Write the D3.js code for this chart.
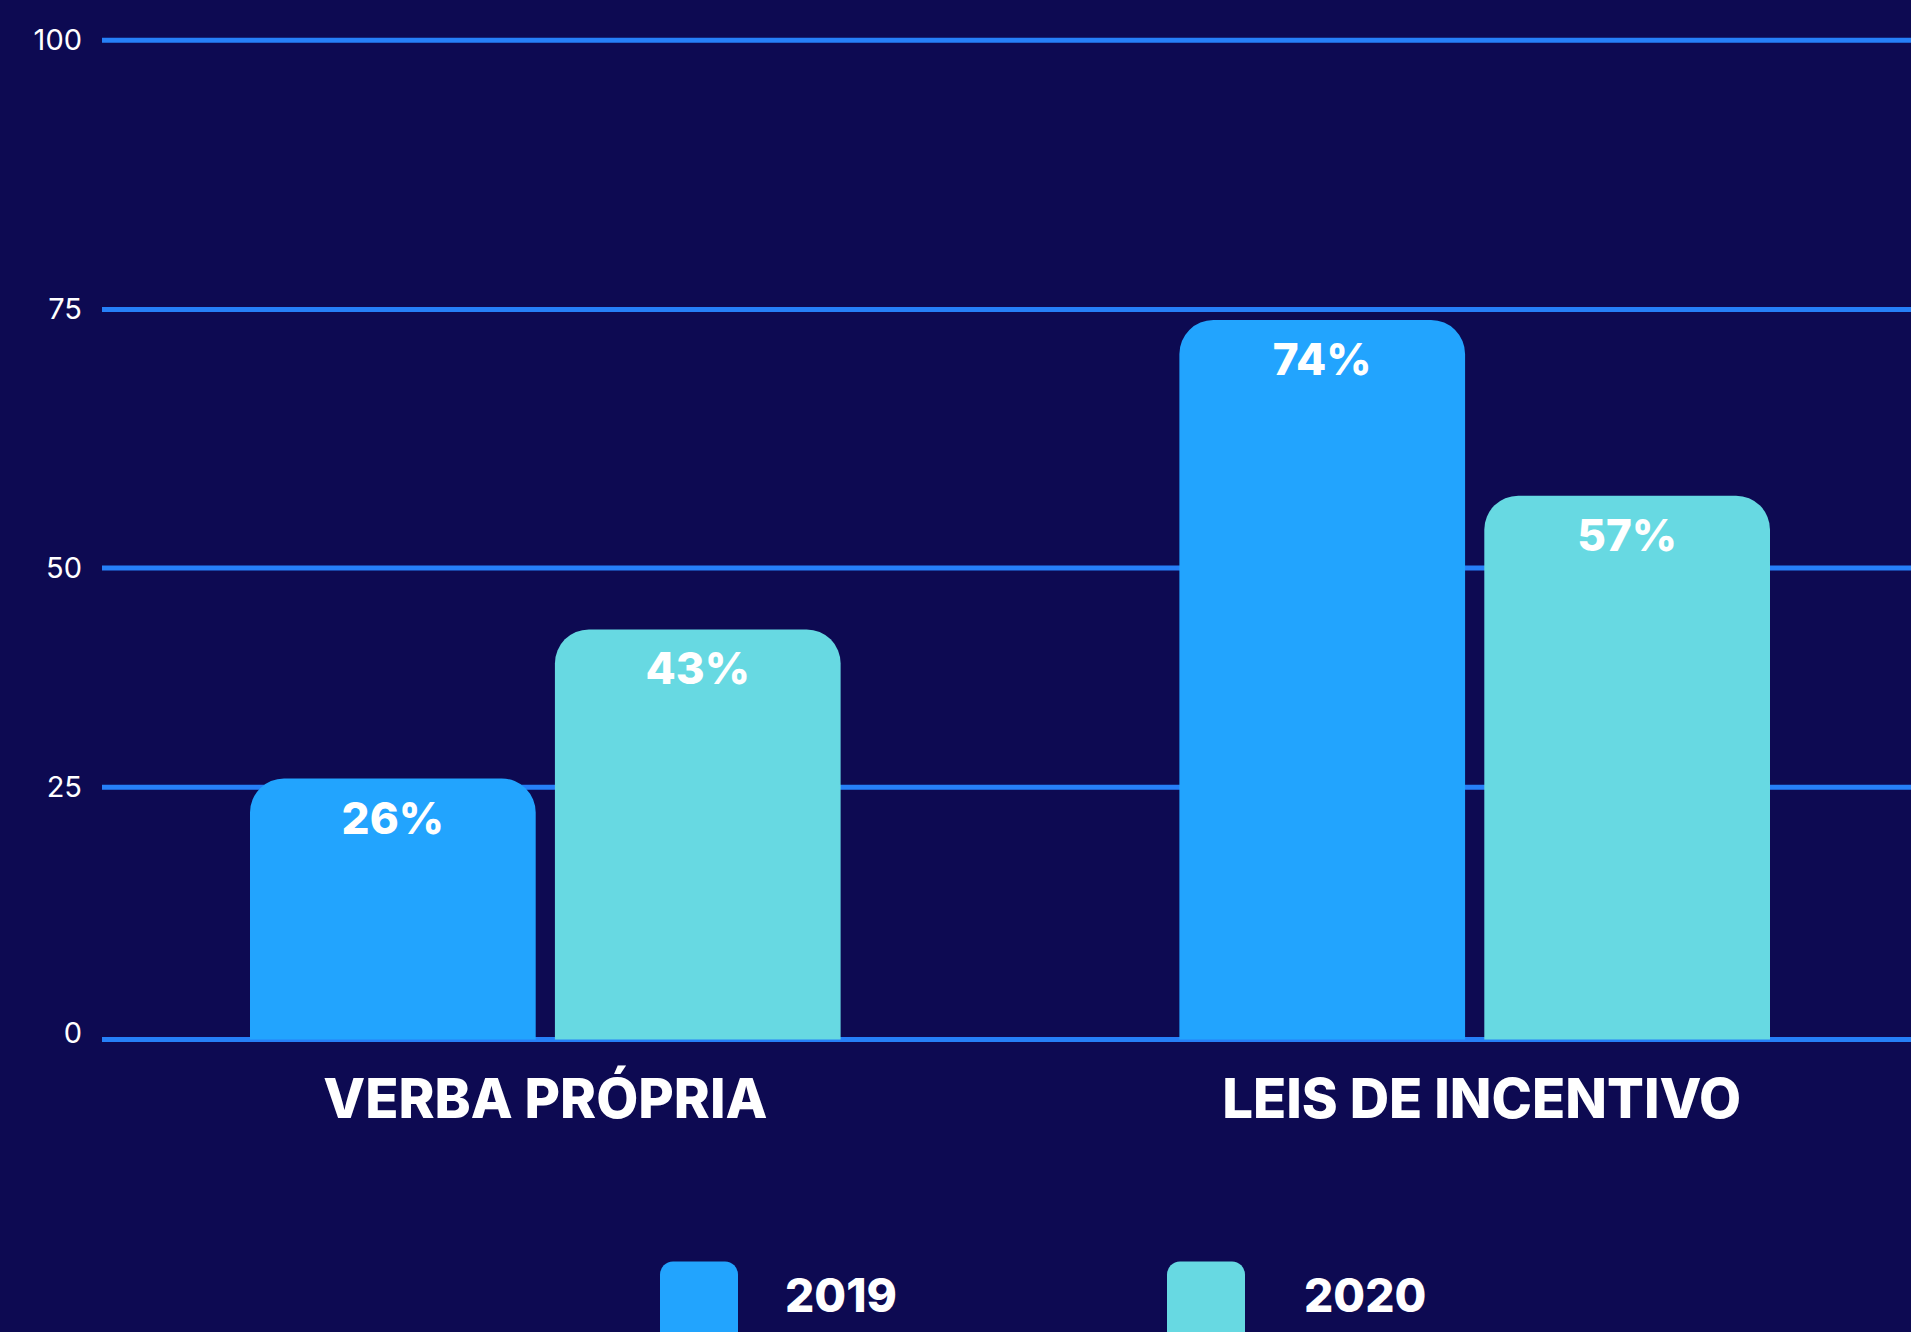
<!DOCTYPE html>
<html>
<head>
<meta charset="utf-8">
<script src="https://cdn.jsdelivr.net/npm/d3@7"></script>
<style>
  body { margin: 0; background: #0d0a52; }
  svg { display: block; }
</style>
</head>
<body>
<div id="viz"></div>
<script>
const width = 1911, height = 1332;

// data
const categories = ["VERBA PRÓPRIA", "LEIS DE INCENTIVO"];
const series = ["2019", "2020"];
const values2019 = [26, 74];
const values2020 = [43, 57];
const yTicks = [0, 25, 50, 75, 100];
const seriesColors = ["#22a4fe", "#67d9e2"];

const bg = "#0d0a52", gridColor = "#2680f8";
const font = "Inter, 'Noto Sans', sans-serif";

const svg = d3.select("#viz").append("svg")
  .attr("width", width)
  .attr("height", height)
  .style("background", bg);

const rows = categories.map((c, i) => ({
  category: c,
  values: [values2019[i], values2020[i]]
}));

// the original grid is not evenly spaced, so the scale follows its gridlines
const y = d3.scaleLinear()
  .domain(yTicks)
  .range([1039.6, 787.3, 568, 309.6, 40.2]);

const x0 = d3.scaleBand()
  .domain(categories)
  .range([250, 1770])
  .paddingInner(0.3645);

const x1 = d3.scaleBand()
  .domain(series)
  .range([0, x0.bandwidth()])
  .paddingInner(0.063);

const color = d3.scaleOrdinal().domain(series).range(seriesColors);

// gridlines + tick labels
const grid = svg.append("g");
grid.selectAll("line")
  .data(yTicks)
  .enter()
  .append("line")
  .attr("x1", 102)
  .attr("x2", width)
  .attr("y1", d => y(d))
  .attr("y2", d => y(d))
  .attr("stroke", gridColor)
  .attr("stroke-width", 5);

grid.selectAll("text")
  .data(yTicks)
  .enter()
  .append("text")
  .attr("x", 82)
  .attr("y", d => y(d))
  .attr("dy", d => d === 0 ? "0.1em" : "0.33em")
  .attr("text-anchor", "end")
  .attr("fill", "#ffffff")
  .attr("font-family", font)
  .attr("font-weight", 400)
  .attr("font-size", "29px")
  .text(d => d);

// bars with rounded tops
function topRounded(x, yTop, w, h, r) {
  r = Math.min(r, h, w / 2);
  return `M${x},${yTop + h}V${yTop + r}A${r},${r} 0 0 1 ${x + r},${yTop}` +
    `H${x + w - r}A${r},${r} 0 0 1 ${x + w},${yTop + r}V${yTop + h}Z`;
}

const groups = svg.selectAll(".group")
  .data(rows)
  .enter()
  .append("g")
  .attr("class", "group")
  .attr("transform", d => `translate(${x0(d.category)},0)`);

const bars = groups.selectAll(".bar")
  .data(d => d.values.map((v, i) => ({ key: series[i], value: v })))
  .enter()
  .append("g")
  .attr("class", "bar");

bars.append("path")
  .attr("d", d => topRounded(x1(d.key), y(d.value), x1.bandwidth(), y(0) - y(d.value), 34))
  .attr("fill", d => color(d.key));

bars.append("text")
  .attr("x", d => x1(d.key) + x1.bandwidth() / 2)
  .attr("y", d => y(d.value) + 55)
  .attr("text-anchor", "middle")
  .attr("fill", "#ffffff")
  .attr("font-family", font)
  .attr("font-weight", 800)
  .attr("font-size", "44px")
  .text(d => d.value + "%");

// category labels
svg.selectAll(".cat")
  .data(categories)
  .enter()
  .append("text")
  .attr("class", "cat")
  .attr("x", (d, i) => x0(d) + x0.bandwidth() / 2 + (i === 1 ? 7 : 0))
  .attr("y", 1117.6)
  .attr("text-anchor", "middle")
  .attr("fill", "#ffffff")
  .attr("font-family", font)
  .attr("font-weight", 800)
  .attr("font-size", "54.5px")
  .text(d => d);

// legend
const legend = svg.selectAll(".legend")
  .data(series)
  .enter()
  .append("g")
  .attr("class", "legend")
  .attr("transform", (d, i) => `translate(${660 + i * 507}, 1261.5)`);

legend.append("rect")
  .attr("width", 78)
  .attr("height", 90)
  .attr("rx", 13)
  .attr("fill", d => color(d));

legend.append("text")
  .attr("x", (d, i) => 125 + i * 12)
  .attr("y", 50)
  .attr("fill", "#ffffff")
  .attr("font-family", font)
  .attr("font-weight", 800)
  .attr("font-size", "46px")
  .text(d => d);
</script>
</body>
</html>
